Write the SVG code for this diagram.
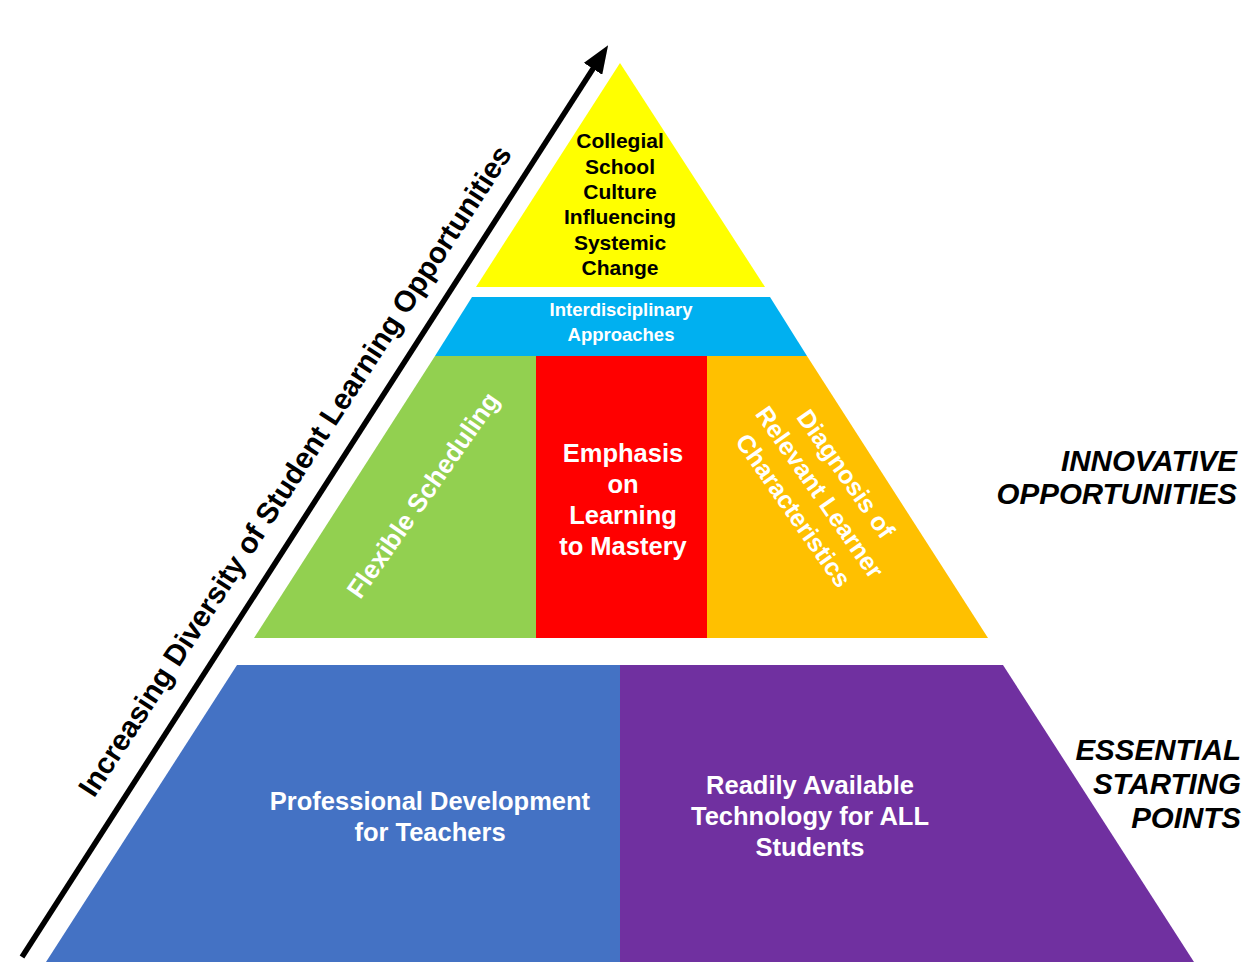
<svg xmlns="http://www.w3.org/2000/svg" width="1257" height="970" viewBox="0 0 1257 970">
<style>
text{font-family:"Liberation Sans",Arial,sans-serif;font-weight:bold;}
.w{fill:#ffffff;text-anchor:middle;}
.k{fill:#000000;text-anchor:middle;}
.lbl{fill:#000000;text-anchor:end;font-style:italic;font-size:29.5px;}
</style>
<defs>
<marker id="ah" viewBox="0 0 28 22" refX="6" refY="11" markerWidth="28" markerHeight="22" markerUnits="userSpaceOnUse" orient="auto">
<path d="M0,0 L28,11 L0,22 z" fill="#000000"/>
</marker>
</defs>
<rect x="0" y="0" width="1257" height="970" fill="#ffffff"/>

<g id="node-culture">
<polygon points="620,63 765,287 476,287" fill="#FFFF00"/>
<g class="k" font-size="21">
<text x="620" y="148">Collegial</text>
<text x="620" y="174">School</text>
<text x="620" y="199">Culture</text>
<text x="620" y="224">Influencing</text>
<text x="620" y="250">Systemic</text>
<text x="620" y="275">Change</text>
</g>
</g>

<g id="node-interdisciplinary">
<polygon points="472,297 770,297 807,356 435,356" fill="#00B0F0"/>
<g class="w" font-size="18.5">
<text x="621" y="316">Interdisciplinary</text>
<text x="621" y="341">Approaches</text>
</g>
</g>

<g id="node-flexible">
<polygon points="435,356 536,356 536,638 254,638" fill="#92D050"/>
<text class="w" font-size="26" transform="translate(423,495) rotate(-55)" x="0" y="9">Flexible Scheduling</text>
</g>

<g id="node-mastery">
<rect x="536" y="356" width="171" height="282" fill="#FF0000"/>
<g class="w" font-size="25.5">
<text x="623" y="462">Emphasis</text>
<text x="623" y="493">on</text>
<text x="623" y="524">Learning</text>
<text x="623" y="555">to Mastery</text>
</g>
</g>

<g id="node-diagnosis">
<polygon points="707,356 807,356 988,638 707,638" fill="#FFC000"/>
<g class="w" font-size="25" transform="translate(820,492) rotate(55)">
<text x="0" y="-23">Diagnosis of</text>
<text x="0" y="9">Relevant Learner</text>
<text x="0" y="41">Characteristics</text>
</g>
</g>

<g id="node-professional">
<polygon points="237,665 620,665 620,962 46,962" fill="#4472C4"/>
<g class="w" font-size="25.5">
<text x="430" y="810">Professional Development</text>
<text x="430" y="841">for Teachers</text>
</g>
</g>

<g id="node-technology">
<polygon points="620,665 1003,665 1194,962 620,962" fill="#7030A0"/>
<g class="w" font-size="25.5">
<text x="810" y="794">Readily Available</text>
<text x="810" y="825">Technology for ALL</text>
<text x="810" y="856">Students</text>
</g>
</g>

<g id="node-innovative">
<text class="lbl" x="1237" y="471">INNOVATIVE</text>
<text class="lbl" x="1237" y="504">OPPORTUNITIES</text>
</g>

<g id="node-essential">
<text class="lbl" x="1241" y="760">ESSENTIAL</text>
<text class="lbl" x="1241" y="794">STARTING</text>
<text class="lbl" x="1241" y="828">POINTS</text>
</g>

<g id="connectors">
<line x1="22" y1="957" x2="596.2" y2="63.8" stroke="#000000" stroke-width="5.5" marker-end="url(#ah)"/>
<text class="k" font-size="29.5" transform="translate(295,471) rotate(-57)" x="0" y="10">Increasing Diversity of Student Learning Opportunities</text>
</g>
</svg>
